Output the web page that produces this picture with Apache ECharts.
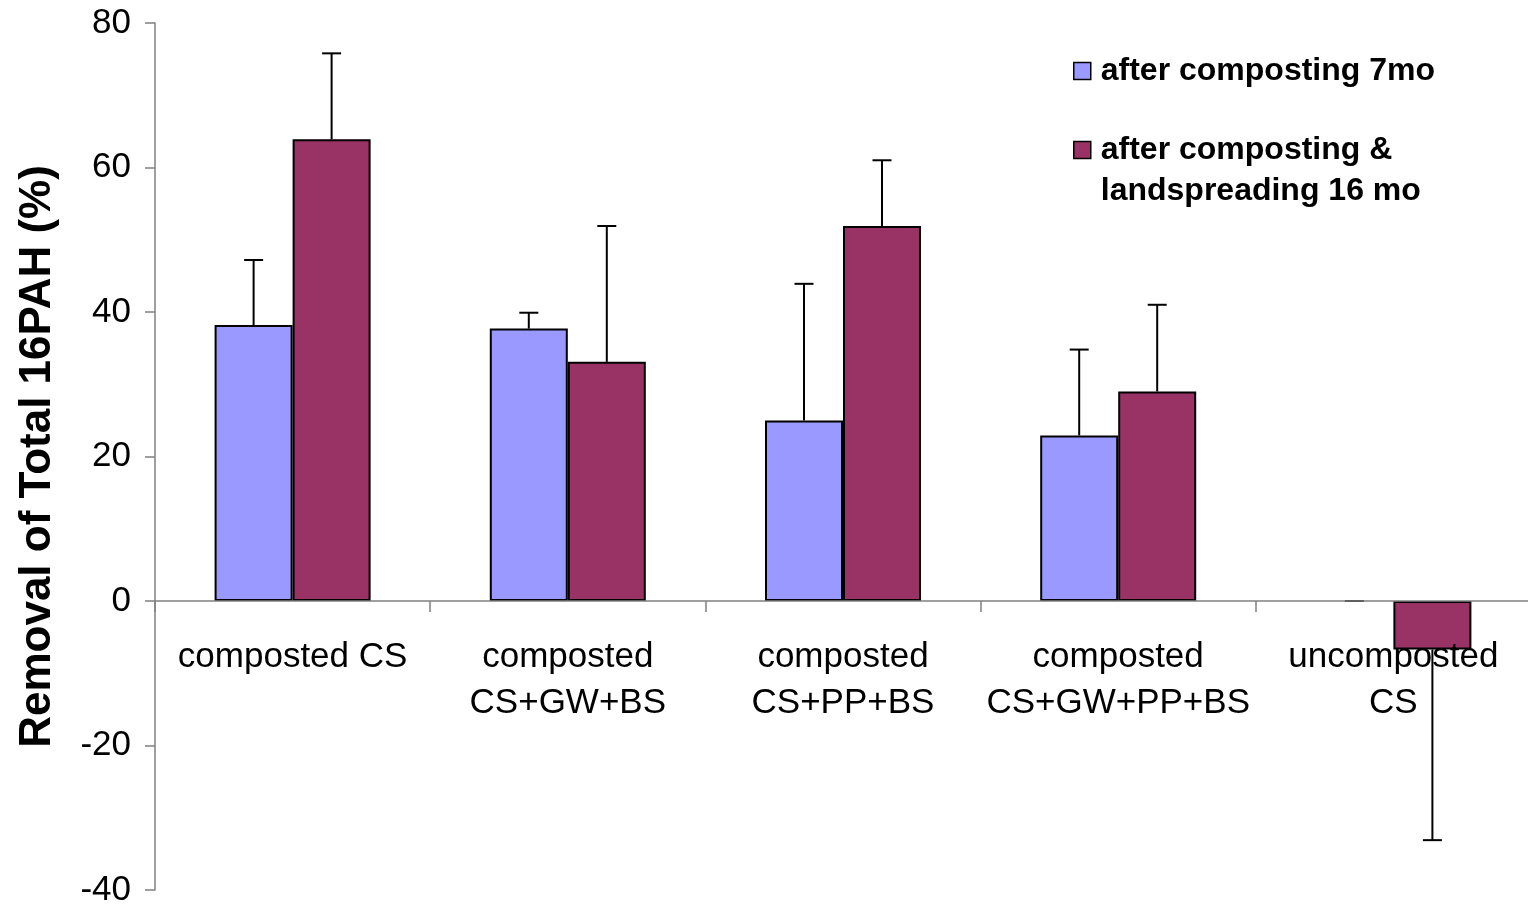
<!DOCTYPE html>
<html>
<head>
<meta charset="utf-8">
<script src="https://cdn.jsdelivr.net/npm/echarts@6/dist/echarts.min.js"></script>
<style>
  html, body { margin: 0; padding: 0; background: #fff; }
  #chart { width: 1528px; height: 905px; }
</style>
</head>
<body>
<div id="chart"></div>
<script>
const categories = ['composted CS', 'composted\nCS+GW+BS', 'composted\nCS+PP+BS', 'composted\nCS+GW+PP+BS', 'uncomposted\nCS'];
const seriesNames = ['after composting 7mo', 'after composting &\nlandspreading 16 mo'];
const blueValues = [38.2, 37.7, 25.0, 22.9, 0];
const blueErrors = [9.0, 2.2, 18.9, 11.9, 0];
const purpleValues = [63.9, 33.1, 51.9, 29.0, -6.7];
const purpleErrors = [11.9, 18.8, 9.1, 12.0, 26.4];
const yTicks = { min: -40, max: 80, interval: 20 };

const FONT = "'Liberation Sans', Arial, sans-serif";
const BAR_W = 78;
const CAP_HALF = 9.5;
const colors = ['#9999FF', '#993366'];

function barData(vals) {
  return vals.map(v => v === 0 ? { value: v, itemStyle: { borderWidth: 0 } } : v);
}
function errData(vals, errs) {
  return vals.map((v, i) => [i, v, errs[i]]);
}
function errRender(sign) {
  return function (params, api) {
    const i = api.value(0), v = api.value(1), e = api.value(2);
    const end = v < 0 ? v - e : v + e;
    const p0 = api.coord([i, v]);
    const p1 = api.coord([i, end]);
    const x = p0[0] + sign * BAR_W / 2;
    const st = { stroke: '#000', lineWidth: 2 };
    return {
      type: 'group',
      children: [
        { type: 'line', shape: { x1: x, y1: p0[1], x2: x, y2: p1[1] }, style: st },
        { type: 'line', shape: { x1: x - CAP_HALF, y1: p1[1], x2: x + CAP_HALF, y2: p1[1] }, style: st }
      ]
    };
  };
}

const legendText = {
  fontFamily: FONT, fontSize: 32, fontWeight: 'bold', color: '#000', lineHeight: 41,
  rich: { t: { fontFamily: FONT, fontSize: 32, fontWeight: 'bold', color: '#000', lineHeight: 41, padding: [0, 0, 0, 5] } }
};
function richLines(name) {
  return name.split('\n').map(l => '{t|' + l + '}').join('\n');
}

const chart = echarts.init(document.getElementById('chart'));
chart.setOption({
  animation: false,
  backgroundColor: '#fff',
  textStyle: { fontFamily: FONT },
  grid: { left: 155, right: -3, top: 23, bottom: 15, containLabel: false, outerBoundsMode: 'none' },
  legend: [
    {
      data: [seriesNames[0]],
      left: 1068, top: 45.5,
      icon: 'rect',
      itemWidth: 17, itemHeight: 17,
      itemStyle: { borderColor: '#000', borderWidth: 1.5 },
      formatter: richLines,
      textStyle: legendText,
      selectedMode: false
    },
    {
      data: [seriesNames[1]],
      left: 1068, top: 83.5,
      icon: 'rect',
      itemWidth: 17, itemHeight: 17,
      itemStyle: { borderColor: '#000', borderWidth: 1.5 },
      formatter: name => '{t| }\n' + richLines(name),
      textStyle: legendText,
      selectedMode: false
    }
  ],
  xAxis: {
    type: 'category',
    data: categories,
    z: 10,
    axisLine: { onZero: false, lineStyle: { color: '#808080', width: 1.5 } },
    axisTick: { show: true, length: 11, lineStyle: { color: '#808080', width: 1.5 } },
    axisLabel: { interval: 0, fontSize: 35, lineHeight: 46, color: '#000', margin: 33, fontFamily: FONT },
    splitLine: { show: false }
  },
  yAxis: {
    type: 'value',
    min: yTicks.min, max: yTicks.max, interval: yTicks.interval,
    name: 'Removal of Total 16PAH (%)',
    nameLocation: 'middle',
    nameRotate: 90,
    nameGap: 95,
    nameTextStyle: { fontSize: 44, fontWeight: 'bold', color: '#000', fontFamily: FONT },
    axisLine: { show: true, onZero: false, lineStyle: { color: '#808080', width: 1.5 } },
    axisTick: { show: true, length: 10, lineStyle: { color: '#808080', width: 1.5 } },
    axisLabel: { fontSize: 35, color: '#000', margin: 24, fontFamily: FONT },
    splitLine: { show: false }
  },
  series: [
    {
      name: seriesNames[0], type: 'bar', data: barData(blueValues),
      barWidth: BAR_W, barGap: '0%',
      itemStyle: { color: colors[0], borderColor: '#000', borderWidth: 2 }
    },
    {
      name: seriesNames[1], type: 'bar', data: barData(purpleValues),
      barWidth: BAR_W, barGap: '0%',
      itemStyle: { color: colors[1], borderColor: '#000', borderWidth: 2 }
    },
    {
      type: 'custom', name: 'err1', data: errData(blueValues, blueErrors),
      renderItem: errRender(-1), z: 5, silent: true
    },
    {
      type: 'custom', name: 'err2', data: errData(purpleValues, purpleErrors),
      renderItem: errRender(1), z: 5, silent: true
    }
  ]
});

// Move the category axis (line, ticks and labels) up to the y = 0 line.
const zeroY = chart.convertToPixel({ yAxisIndex: 0 }, 0);
const bottomY = chart.convertToPixel({ yAxisIndex: 0 }, yTicks.min);
chart.setOption({ xAxis: { offset: zeroY - bottomY } });
</script>
</body>
</html>
